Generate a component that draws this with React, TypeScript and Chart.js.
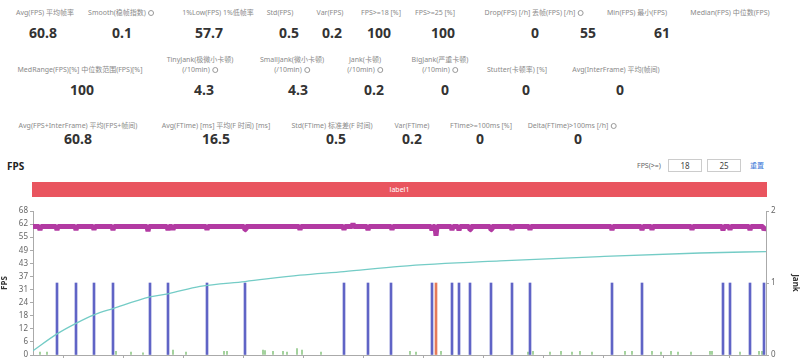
import React, { useEffect, useRef } from 'react';
import { Chart, registerables } from 'chart.js';

Chart.register(...registerables);

// ---------- stats data ----------
const row1Labels = ['Avg(FPS) 平均帧率', 'Smooth(稳帧指数)', '1%Low(FPS) 1%低帧率', 'Std(FPS)', 'Var(FPS)', 'FPS>=18 [%]', 'FPS>=25 [%]', 'Drop(FPS) [/h] 丢帧(FPS) [/h]', 'Min(FPS) 最小(FPS)', 'Median(FPS) 中位数(FPS)'];
const row1Values = ['60.8', '0.1', '57.7', '0.5', '0.2', '100', '100', '0', '55', '61'];
const row1Icons = [false, true, false, false, false, false, false, true, false, false];

const row2Labels = ['MedRange(FPS)[%] 中位数范围(FPS)[%]', 'TinyJank(极微小卡顿)\n(/10min)', 'SmallJank(微小卡顿)\n(/10min)', 'Jank(卡顿)\n(/10min)', 'BigJank(严重卡顿)\n(/10min)', 'Stutter(卡顿率) [%]', 'Avg(InterFrame) 平均(帧间)'];
const row2Values = ['100', '4.3', '4.3', '0.2', '0', '0', '0'];
const row2Icons = [false, true, true, true, true, false, false];

const row3Labels = ['Avg(FPS+InterFrame) 平均(FPS+帧间)', 'Avg(FTime) [ms] 平均(F 时间) [ms]', 'Std(FTime) 标准差(F 时间)', 'Var(FTime)', 'FTime>=100ms [%]', 'Delta(FTime)>100ms [/h]'];
const row3Values = ['60.8', '16.5', '0.5', '0.2', '0', '0'];
const row3Icons = [false, false, false, false, false, true];

// layout (positions only)
const row1LabelX = [45, 121, 218, 280, 330, 381, 435, 534, 637, 730];
const row1ValueX = [43, 122, 209, 289, 332, 379, 443, 535, 588, 662];
const row2LabelX = [80, 200, 292, 365, 440, 517, 616];
const row2ValueX = [82, 204, 298, 374, 445, 526, 620];
const row3LabelX = [78, 216, 332, 412, 481, 572];
const row3ValueX = [78, 216, 336, 412, 480, 578];

// ---------- chart data ----------
const fpsThresholds = ['18', '25'];
const sectionLabel = 'label1';

const fpsTime = [0, 6, 7, 8, 23, 24, 25, 42, 43, 44, 60, 61, 62, 79, 80, 81, 114, 115, 116, 134, 135, 136, 139, 140, 141, 173, 174, 175, 211, 212, 213, 250, 266, 267, 268, 290, 310, 311, 312, 319, 320, 321, 334, 335, 336, 358, 359, 360, 398, 399, 400, 401, 402, 403, 404, 418, 419, 420, 425, 426, 427, 436, 437, 438, 457, 458, 459, 478, 479, 480, 496, 497, 498, 540, 578, 579, 580, 608, 609, 610, 618, 619, 620, 658, 659, 660, 689, 690, 691, 696, 697, 698, 716, 717, 718, 730, 731, 733];
const fpsValues = [60.8, 60.8, 59.2, 60.8, 60.8, 59.2, 60.8, 60.9, 59.2, 60.8, 60.8, 59.3, 60.8, 60.8, 59.2, 60.8, 60.8, 58.6, 60.8, 60.8, 59.2, 60.8, 60.8, 59.4, 60.8, 60.8, 59.3, 60.8, 60.8, 59.3, 60.8, 60.8, 60.8, 59.3, 60.8, 60.8, 60.8, 59.3, 60.8, 60.8, 62.3, 60.8, 60.8, 59.2, 60.8, 60.8, 59.3, 60.8, 60.8, 59.0, 60.8, 60.8, 60.8, 56.5, 60.8, 60.8, 59.2, 60.8, 60.8, 59.0, 60.8, 60.8, 59.3, 60.8, 60.8, 59.3, 60.8, 60.8, 59.3, 60.8, 60.8, 59.3, 60.8, 60.8, 60.8, 59.2, 60.8, 60.8, 59.2, 60.8, 60.8, 59.3, 60.8, 60.8, 59.3, 60.8, 60.8, 59.0, 60.8, 60.8, 59.3, 60.8, 60.8, 59.2, 60.8, 60.8, 59.2, 60.8];

const trendTime = [0, 24, 43, 61, 80, 117, 135, 167, 212, 267, 311, 367, 467, 567, 667, 733];
const trendValues = [2, 10, 15, 19, 22, 27.5, 29, 32.5, 34.8, 37.8, 39.5, 42, 44.6, 46.6, 48.3, 49];

const jankTime = [24, 43, 61, 80, 117, 135, 174, 212, 311, 335, 358, 399, 419, 426, 437, 458, 479, 497, 579, 609, 690, 697, 717, 731];
const bigJankTime = [403];
const smallTime = [7, 14, 83, 98, 110, 140, 153, 191, 194, 230, 232, 240, 250, 254, 264, 269, 288, 377, 383, 408, 419, 495, 500, 517, 528, 539, 547, 559, 592, 599, 619, 628, 638, 645, 658, 677, 679, 707, 726, 729];
const smallValues = [0.04, 0.04, 0.05, 0.04, 0.03, 0.07, 0.04, 0.05, 0.05, 0.07, 0.06, 0.05, 0.05, 0.04, 0.09, 0.07, 0.04, 0.05, 0.04, 0.05, 0.04, 0.04, 0.05, 0.04, 0.05, 0.04, 0.05, 0.04, 0.05, 0.05, 0.05, 0.04, 0.05, 0.04, 0.04, 0.05, 0.05, 0.04, 0.05, 0.05];

const FONT = '"Noto Sans", "Noto Sans CJK SC", sans-serif';

function Icon() {
  return (
    <span
      style={{
        display: 'inline-block',
        width: 6,
        height: 6,
        borderRadius: '50%',
        border: '1px solid #999',
        marginLeft: 2,
        verticalAlign: 'middle',
        boxSizing: 'border-box',
      }}
    />
  );
}

function Label({ text, cx, bottomY, icon }: { text: string; cx: number; bottomY: number; icon: boolean }) {
  const lines = text.split('\n');
  return (
    <>
      {lines.map((ln, i) => (
        <div
          key={i}
          style={{
            position: 'absolute',
            left: cx,
            top: bottomY - (lines.length - 1 - i) * 10 - 5,
            transform: 'translateX(-50%)',
            whiteSpace: 'nowrap',
            fontSize: 7,
            lineHeight: '10px',
            color: '#8a8a8a',
            fontFamily: FONT,
          }}
        >
          {ln}
          {icon && i === lines.length - 1 ? <Icon /> : null}
        </div>
      ))}
    </>
  );
}

function Value({ text, cx, y }: { text: string; cx: number; y: number }) {
  return (
    <div
      style={{
        position: 'absolute',
        left: cx,
        top: y - 10,
        transform: 'translateX(-50%)',
        whiteSpace: 'nowrap',
        fontSize: 14,
        lineHeight: '20px',
        fontWeight: 700,
        color: '#333',
        fontFamily: FONT,
      }}
    >
      {text}
    </div>
  );
}

function FpsChart() {
  const ref = useRef<HTMLCanvasElement | null>(null);
  useEffect(() => {
    if (!ref.current) return;
    Chart.defaults.font.family = FONT;
    const chart = new Chart(ref.current, {
      type: 'bar',
      data: {
        datasets: [
          {
            type: 'line',
            label: 'FPS',
            data: fpsTime.map((t, i) => ({ x: t, y: fpsValues[i] })),
            yAxisID: 'y',
            borderColor: '#b23aa2',
            backgroundColor: '#b23aa2',
            borderWidth: 5,
            borderJoinStyle: 'bevel',
            fill: false,
            pointRadius: 0,
            tension: 0,
            order: 0,
          } as any,
          {
            type: 'line',
            label: 'trend',
            data: trendTime.map((t, i) => ({ x: t, y: trendValues[i] })),
            yAxisID: 'y',
            borderColor: '#74ccc6',
            borderWidth: 1.3,
            pointRadius: 0,
            fill: false,
            cubicInterpolationMode: 'monotone',
            order: 1,
          } as any,
          {
            type: 'bar',
            label: 'Jank',
            data: jankTime.map((t) => ({ x: t, y: 1 })),
            yAxisID: 'y1',
            backgroundColor: '#6064c6',
            barThickness: 2,
            grouped: false,
            order: 2,
          } as any,
          {
            type: 'bar',
            label: 'BigJank',
            data: bigJankTime.map((t) => ({ x: t, y: 1 })),
            yAxisID: 'y1',
            backgroundColor: '#e57a5a',
            barThickness: 2,
            grouped: false,
            order: 2,
          } as any,
          {
            type: 'bar',
            label: 'SmallJank',
            data: smallTime.map((t, i) => ({ x: t, y: smallValues[i] })),
            yAxisID: 'y1',
            backgroundColor: '#92c98a',
            barThickness: 1,
            grouped: false,
            order: 3,
          } as any,
        ],
      },
      options: {
        animation: false,
        responsive: true,
        maintainAspectRatio: false,
        layout: { padding: { top: 11, left: 0, right: 0, bottom: 0 } },
        plugins: { legend: { display: false }, tooltip: { enabled: false } },
        scales: {
          x: {
            type: 'linear',
            min: 0,
            max: 733,
            offset: false,
            grid: { drawOnChartArea: false, drawTicks: true, tickLength: 3, color: '#aaa' },
            border: { color: '#aaa' },
            ticks: {
              stepSize: 60,
              color: '#666',
              font: { size: 8 },
              callback: (v: any) => {
                const s = Number(v);
                const m = Math.floor(s / 60);
                const sec = s % 60;
                return `${m}:${sec < 10 ? '0' : ''}${sec}`;
              },
            },
            afterFit: (s: any) => {
              s.height = 30;
            },
          },
          y: {
            position: 'left',
            min: 0,
            max: 68.2,
            grid: { drawOnChartArea: false, drawTicks: true, tickLength: 3, color: '#aaa' },
            border: { color: '#aaa' },
            ticks: {
              stepSize: 6.2,
              color: '#666',
              font: { size: 8 },
              padding: 2,
              callback: (v: any) => String(Math.floor(Number(v) + 1e-6)),
            },
            title: { display: true, text: 'FPS', color: '#333', font: { size: 8, weight: 'bold' }, padding: 0 },
            afterFit: (s: any) => {
              s.width = 33;
            },
          },
          y1: {
            position: 'right',
            min: 0,
            max: 2,
            grid: { drawOnChartArea: false, drawTicks: true, tickLength: 3, color: '#aaa' },
            border: { color: '#aaa' },
            ticks: { stepSize: 1, color: '#666', font: { size: 8 }, padding: 2 },
            title: { display: true, text: 'Jank', color: '#333', font: { size: 8, weight: 'bold' }, padding: 0 },
            afterFit: (s: any) => {
              s.width = 34;
            },
          },
        },
      } as any,
    });
    return () => chart.destroy();
  }, []);
  return <canvas ref={ref} />;
}

export default function App() {
  return (
    <div
      style={{
        position: 'fixed',
        left: 0,
        top: 0,
        width: 800,
        height: 359,
        overflow: 'hidden',
        background: '#fff',
        fontFamily: FONT,
      }}
    >
      {row1Labels.map((l, i) => (
        <Label key={'l1' + i} text={l} cx={row1LabelX[i]} bottomY={13} icon={row1Icons[i]} />
      ))}
      {row1Values.map((v, i) => (
        <Value key={'v1' + i} text={v} cx={row1ValueX[i]} y={33} />
      ))}
      {row2Labels.map((l, i) => (
        <Label key={'l2' + i} text={l} cx={row2LabelX[i]} bottomY={70} icon={row2Icons[i]} />
      ))}
      {row2Values.map((v, i) => (
        <Value key={'v2' + i} text={v} cx={row2ValueX[i]} y={90} />
      ))}
      {row3Labels.map((l, i) => (
        <Label key={'l3' + i} text={l} cx={row3LabelX[i]} bottomY={126} icon={row3Icons[i]} />
      ))}
      {row3Values.map((v, i) => (
        <Value key={'v3' + i} text={v} cx={row3ValueX[i]} y={139} />
      ))}

      <div style={{ position: 'absolute', left: 7, top: 159, fontSize: 10, lineHeight: '14px', fontWeight: 700, color: '#222' }}>FPS</div>
      <div style={{ position: 'absolute', left: 637, top: 161, fontSize: 7, lineHeight: '10px', color: '#666' }}>FPS(&gt;=)</div>
      {fpsThresholds.map((t, i) => (
        <div
          key={'th' + i}
          style={{
            position: 'absolute',
            left: i === 0 ? 668 : 707,
            top: 159,
            width: 34,
            height: 13,
            boxSizing: 'border-box',
            border: '1px solid #ccc',
            fontSize: 8,
            lineHeight: '11px',
            textAlign: 'center',
            color: '#444',
          }}
        >
          {t}
        </div>
      ))}
      <div style={{ position: 'absolute', left: 750, top: 161, fontSize: 7, lineHeight: '10px', color: '#3b78d8' }}>重置</div>

      <div
        style={{
          position: 'absolute',
          left: 32,
          top: 182,
          width: 735,
          height: 15,
          background: '#e9555f',
          color: '#fff',
          fontSize: 7,
          lineHeight: '15px',
          textAlign: 'center',
        }}
      >
        {sectionLabel}
      </div>

      <div style={{ position: 'absolute', left: 0, top: 200, width: 800, height: 185 }}>
        <FpsChart />
      </div>
    </div>
  );
}
